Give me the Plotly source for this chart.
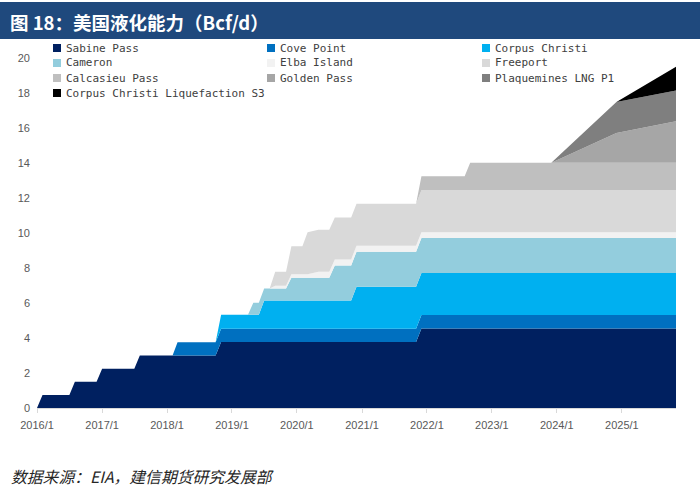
import plotly.graph_objects as go

# capacity knots (Bcf/d): value changes between listed months
sabine_x = ["2016-01", "2016-02", "2016-07", "2016-08", "2016-12", "2017-01", "2017-07",
            "2017-08", "2018-10", "2018-11", "2021-11", "2021-12", "2025-11"]
sabine_y = [0, 0.75, 0.75, 1.5, 1.5, 2.25, 2.25, 3.0, 3.0, 3.77, 3.77, 4.55, 4.55]

cove_x = ["2018-02", "2018-03", "2025-11"]
cove_y = [0, 0.76, 0.76]

cc_x = ["2018-10", "2018-11", "2019-06", "2019-07", "2020-11", "2020-12", "2025-11"]
cc_y = [0, 0.8, 0.8, 1.62, 1.62, 2.4, 2.4]

cameron_x = ["2019-04", "2019-05", "2019-11", "2019-12", "2020-07", "2020-08", "2025-11"]
cameron_y = [0, 0.68, 0.68, 1.3, 1.3, 2.0, 2.0]

elba_x = ["2019-08", "2019-09", "2019-11", "2019-12", "2020-03", "2020-05", "2025-11"]
elba_y = [0, 0.15, 0.15, 0.2, 0.2, 0.34, 0.34]

freeport_x = ["2019-08", "2019-09", "2019-11", "2019-12", "2020-02", "2020-03", "2025-11"]
freeport_y = [0, 0.8, 0.8, 1.6, 1.6, 2.4, 2.4]

calcasieu_x = ["2021-11", "2021-12", "2022-08", "2022-09", "2025-11"]
calcasieu_y = [0, 0.8, 0.8, 1.56, 1.56]

golden_x = ["2023-12", "2024-12", "2025-11"]
golden_y = [0, 1.7, 2.38]

plaq_x = ["2023-12", "2024-12", "2025-11"]
plaq_y = [0, 1.77, 1.75]

cc3_x = ["2024-12", "2025-11"]
cc3_y = [0, 1.36]

names = ["Sabine Pass", "Cove Point", "Corpus Christi", "Cameron", "Elba Island",
         "Freeport", "Calcasieu Pass", "Golden Pass", "Plaquemines LNG P1",
         "Corpus Christi Liquefaction S3"]
colors = ["#002060", "#0070C0", "#00B0F0", "#93CDDD", "#F2F2F2",
          "#D9D9D9", "#BFBFBF", "#A6A6A6", "#7F7F7F", "#000000"]
xs = [sabine_x, cove_x, cc_x, cameron_x, elba_x, freeport_x, calcasieu_x, golden_x, plaq_x, cc3_x]
ys = [sabine_y, cove_y, cc_y, cameron_y, elba_y, freeport_y, calcasieu_y, golden_y, plaq_y, cc3_y]

title = "图 18：美国液化能力（Bcf/d）"
source = "数据来源：EIA，建信期货研究发展部"

W, H = 700, 487
L, R, T, B = 37, 676, 58, 408


def px_x(x):
    return (x - L) / (R - L)


def px_y(y):
    return (B - y) / (B - T)


fig = go.Figure()
for name, color, x, y in zip(names, colors, xs, ys):
    fig.add_trace(go.Scatter(x=x, y=y, name=name, mode="lines", stackgroup="cap",
                             stackgaps="interpolate", line=dict(width=0, color=color),
                             fillcolor=color, showlegend=False, hoverinfo="skip"))

shapes = []
annotations = []

# title band
shapes.append(dict(type="rect", xref="paper", yref="paper", x0=px_x(0), x1=px_x(W),
                   y0=px_y(39), y1=px_y(2), fillcolor="#1F497D", line=dict(width=0)))
annotations.append(dict(text=title, xref="paper", yref="paper", x=px_x(8), y=px_y(22),
                        xanchor="left", yanchor="middle", showarrow=False,
                        font=dict(family="Noto Sans CJK SC", size=18.5, color="white", weight="bold")))

# legend, 3 columns
col_px = [53, 267, 482]
row_px = [48, 63, 78, 93]
for i, (name, color) in enumerate(zip(names, colors)):
    cx = col_px[i % 3]
    cy = row_px[i // 3]
    shapes.append(dict(type="rect", xref="paper", yref="paper", x0=px_x(cx), x1=px_x(cx + 8),
                       y0=px_y(cy + 4), y1=px_y(cy - 4), fillcolor=color, line=dict(width=0)))
    annotations.append(dict(text=name, xref="paper", yref="paper", x=px_x(cx + 11), y=px_y(cy),
                            xanchor="left", yanchor="middle", showarrow=False,
                            font=dict(family="DejaVu Sans Mono", size=11, color="#404040")))

annotations.append(dict(text=source, xref="paper", yref="paper", x=px_x(9), y=px_y(476),
                        xanchor="left", yanchor="middle", showarrow=False,
                        font=dict(family="Noto Sans CJK SC", size=15.8, color="#262626", style="italic")))

fig.update_layout(
    width=W, height=H,
    margin=dict(l=L, r=W - R, t=T, b=H - B),
    paper_bgcolor="white", plot_bgcolor="white",
    font=dict(family="Liberation Sans", size=11, color="#595959"),
    shapes=shapes, annotations=annotations,
    xaxis=dict(type="date", range=["2016-01-01", "2025-11-01"], tick0="2016-01-01", dtick="M12",
               tickformat="%Y/%-m", showgrid=False, showline=True, linecolor="#D9D9D9",
               ticks="outside", ticklen=4, tickcolor="#D9D9D9", zeroline=False,
               ticklabelstandoff=3),
    yaxis=dict(range=[0, 20], dtick=2, showgrid=False, zeroline=False, showline=False,
               ticks="", ticklabelstandoff=6),
)

# page body margin would push the figure 8px right/down
fig.write_html("out.html", config={"displayModeBar": False},
               post_script="document.body.style.margin='0px';")
